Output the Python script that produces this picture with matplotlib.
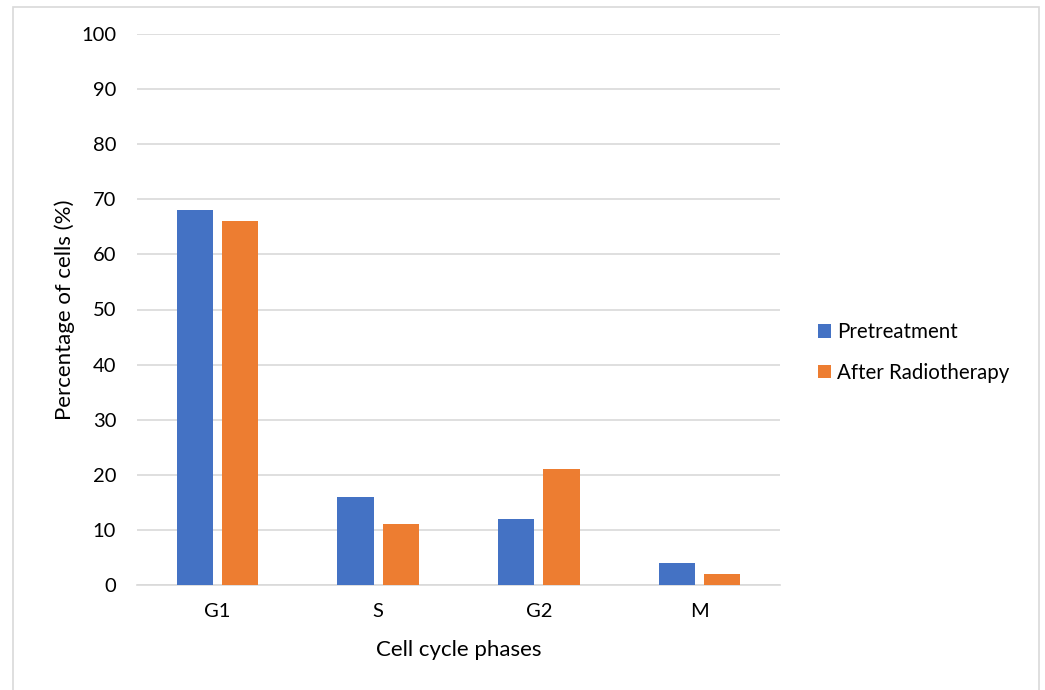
import numpy as np
import matplotlib as mpl
mpl.use('agg')
import matplotlib.pyplot as plt
from matplotlib.patches import Rectangle

plt.rcParams['font.family'] = ['Lato', 'DejaVu Sans']

phases = ['G1', 'S', 'G2', 'M']
pretreatment = [68, 16, 12, 4]
after_radio = [66, 11, 21, 2]
yticks = list(range(0, 101, 10))

blue = '#4472C4'
orange = '#ED7D31'

fig = plt.figure(figsize=(10.45, 6.9), dpi=100)
ax = fig.add_axes([137 / 1045, 1 - 585 / 690, (780 - 137) / 1045, (585 - 34) / 690])

# outer chart border
fig.patches.append(Rectangle((13 / 1045, -0.01), (1039 - 13) / 1045, 1 - 7 / 690 + 0.01,
                             transform=fig.transFigure, fill=False,
                             edgecolor='#d9d9d9', linewidth=1.2))

x = np.arange(len(phases))
w = 0.225
gap = 0.056
ax.bar(x - (w + gap) / 2, pretreatment, w, color=blue, label='Pretreatment', zorder=3)
ax.bar(x + (w + gap) / 2, after_radio, w, color=orange, label='After Radiotherapy', zorder=3)

ax.set_xlim(-0.5, len(phases) - 0.5)
ax.set_ylim(0, 100)
ax.set_yticks(yticks)
ax.set_xticks(x)
ax.set_xticklabels(phases)
ax.yaxis.grid(True, color='#d9d9d9', linewidth=1.2, zorder=0)
for s in ['top', 'right', 'left']:
    ax.spines[s].set_visible(False)
ax.spines['bottom'].set_color('#d9d9d9')
ax.spines['bottom'].set_linewidth(1.2)
ax.tick_params(axis='both', length=0, labelsize=14.5, colors='black', pad=15)
ax.tick_params(axis='x', pad=13)

ax.set_xlabel('Cell cycle phases', fontsize=16, labelpad=14)
ax.set_ylabel('Percentage of cells (%)', fontsize=16, labelpad=4)

ax.legend(loc='center left', bbox_to_anchor=(1.03, 0.422), frameon=False, fontsize=14.8,
          handlelength=0.65, handleheight=0.65, handletextpad=0.3, labelspacing=1.0)

fig.savefig('out.png', dpi=100)
